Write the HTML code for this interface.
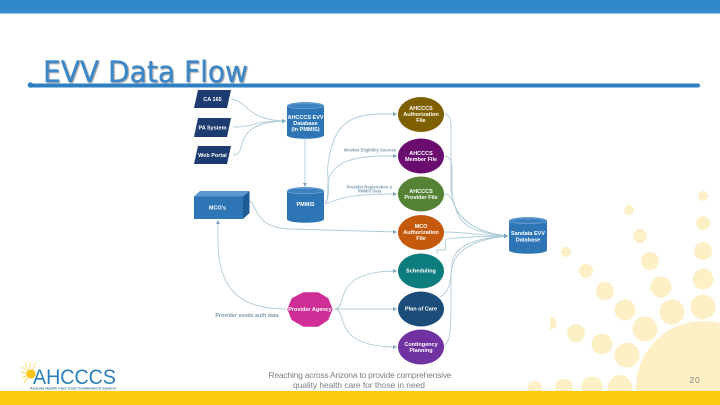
<!DOCTYPE html>
<html>
<head>
<meta charset="utf-8">
<style>
html,body{margin:0;padding:0;background:#fff;overflow:hidden}
body{width:720px;height:405px;overflow:hidden}
svg{display:block;overflow:hidden}
text{font-family:"Liberation Sans",sans-serif}
.w{fill:#fff;font-weight:bold;font-size:5.5px;text-anchor:middle}
.l{fill:#7a9ab0;font-weight:bold;font-size:4.1px;text-anchor:middle}
.c{fill:none;stroke:#b0ccd8;stroke-width:.9}
</style>
</head>
<body>
<svg width="720" height="405" viewBox="0 0 720 405" xmlns="http://www.w3.org/2000/svg">
<defs>
<marker id="a" markerWidth="5" markerHeight="5" refX="4" refY="2" orient="auto" markerUnits="userSpaceOnUse"><path d="M0 0L4 2L0 4Z" fill="#7fa6bf"/></marker>
<filter id="s" x="-5%" y="-5%" width="110%" height="110%"><feGaussianBlur stdDeviation=".35"/></filter>
<filter id="ts" x="-5%" y="-20%" width="110%" height="140%"><feDropShadow dx="1" dy="1" stdDeviation=".45" flood-color="#444" flood-opacity=".55"/></filter>
<linearGradient id="bar" x1="0" y1="0" x2="0" y2="1"><stop offset="0" stop-color="#2f87c9"/><stop offset="1" stop-color="#338bcb"/></linearGradient>
</defs>

<!-- sun background -->
<g fill="#fdf0c6">
<path d="M636 391A67 67 0 0 1 720 323.200V391Z"/>
<circle cx="703" cy="196" r="5"/><circle cx="703" cy="223" r="7"/><circle cx="703" cy="251" r="9"/><circle cx="703" cy="279" r="10.500"/><circle cx="703" cy="307" r="12.500"/>
<circle cx="629" cy="210" r="5"/><circle cx="640" cy="236" r="7"/><circle cx="650" cy="261" r="9"/><circle cx="661" cy="287" r="10.500"/><circle cx="672" cy="312" r="12.500"/>
<circle cx="566" cy="252" r="5"/><circle cx="586" cy="271" r="7"/><circle cx="605" cy="291" r="9"/><circle cx="625" cy="310" r="10.500"/><circle cx="645" cy="329" r="12.500"/>
<circle cx="550" cy="323" r="6.500"/><circle cx="576" cy="333" r="9"/><circle cx="602" cy="344" r="10.500"/><circle cx="627" cy="355" r="12.500"/>
<circle cx="535" cy="388" r="7"/><circle cx="564" cy="388" r="9"/><circle cx="592" cy="387" r="10.500"/><circle cx="620" cy="387" r="12"/>
</g>
<rect x="190" y="90" width="360" height="275" fill="#fff"/>

<!-- bars -->
<rect x="0" y="0" width="720" height="13.500" fill="url(#bar)"/>
<rect x="0" y="391" width="720" height="14" fill="#fdc90e"/>

<!-- title -->
<text x="43" y="82" font-size="29.500" textLength="205" lengthAdjust="spacingAndGlyphs" fill="#3a87c8" stroke="#3a87c8" stroke-width=".25" filter="url(#ts)" style="font-family:'DejaVu Sans',sans-serif">EVV Data Flow</text>
<rect x="29" y="83.500" width="671" height="4" rx="2" fill="#2f80c2"/>
<circle cx="30.500" cy="85" r="2.800" fill="#2f80c2"/>

<g filter="url(#s)">
<!-- connectors -->
<path class="c" d="M231 99C250 102 245 120 286 121" marker-end="url(#a)"/>
<path class="c" d="M233 127C255 127 250 121 286 121" marker-end="url(#a)"/>
<path class="c" d="M233 155C250 155 228 122 286 121" marker-end="url(#a)"/>
<path class="c" d="M305 139V187" marker-end="url(#a)"/>
<path class="c" d="M325 204C332 196 326 172 328 165C332 130 345 114 380 114L397 114" marker-end="url(#a)"/>
<path class="c" d="M325 204C330 196 326 185 329 178C335 163 350 157 380 156L397 156" marker-end="url(#a)"/>
<path class="c" d="M325 204C345 197 350 194 397 194" marker-end="url(#a)"/>
<path class="c" d="M249 201C257 201 252 228 290 229L397 232" marker-end="url(#a)"/>
<path class="c" d="M286 309C240 309 218 290 218 240V220" marker-end="url(#a)"/>
<path class="c" d="M334 309C350 309 328 271 397 271" marker-end="url(#a)"/>
<path class="c" d="M334 309H397" marker-end="url(#a)"/>
<path class="c" d="M334 309C350 309 328 347 397 347" marker-end="url(#a)"/>
<path class="c" d="M444 114C450 114 451 120 451 130V185C451 215 470 232 508 236" marker-end="url(#a)"/>
<path class="c" d="M444 156C450 156 452 162 452 170V190C452 218 475 233 508 236" marker-end="url(#a)"/>
<path class="c" d="M444 194C452 194 454 205 458 215C465 228 480 234 508 236" marker-end="url(#a)"/>
<path class="c" d="M444 232C470 232 480 236 508 236" marker-end="url(#a)"/>
<path class="c" d="M437 254V250H445.500V240C445.500 238 480 236 508 236" marker-end="url(#a)"/>
<path class="c" d="M440 297C450 292 451 280 452 263C454 248 470 238 508 236" marker-end="url(#a)"/>
<path class="c" d="M443 347C451 342 451 330 451 300V275C452 255 465 240 508 236" marker-end="url(#a)"/>

<!-- parallelograms -->
<g fill="#1f3b6e">
<path d="M198 90H231L227 108H194Z"/>
<path d="M198 118H231L227 137H194Z"/>
<path d="M198 146H231L227 164H194Z"/>
</g>
<text class="w" x="212.500" y="101">CA 165</text>
<text class="w" x="212.500" y="129.500">PA System</text>
<text class="w" x="212.500" y="157">Web Portal</text>

<!-- AHCCCS EVV cylinder -->
<path d="M287 106C287 101 324 101 324 106V135C324 140 287 140 287 135Z" fill="#2e75b6"/>
<ellipse cx="305.500" cy="106" rx="18.500" ry="2.800" fill="#3c82c0" stroke="#9cc4e4" stroke-width=".4"/>
<text class="w" x="305.500" y="119">AHCCCS EVV</text>
<text class="w" x="305.500" y="125">Database</text>
<text class="w" x="305.500" y="131">(In PMMIS)</text>

<!-- PMMIS cylinder -->
<path d="M287 191C287 186 324 186 324 191V219C324 224 287 224 287 219Z" fill="#2e75b6"/>
<ellipse cx="305.500" cy="191" rx="18.500" ry="2.800" fill="#3c82c0" stroke="#9cc4e4" stroke-width=".4"/>
<text class="w" x="305.500" y="206">PMMIS</text>

<!-- MCO box -->
<path d="M194 196.500L200 191H249.500L243 196.500Z" fill="#5a97cf"/>
<path d="M243 196.500L249.500 191V213L243 219Z" fill="#1f5d96"/>
<rect x="194" y="196.500" width="49" height="22.500" fill="#2e75b6"/>
<text class="w" x="217.500" y="209.500">MCO's</text>

<!-- Sandata cylinder -->
<path d="M509 221C509 216 547 216 547 221V250C547 255 509 255 509 250Z" fill="#2e75b6"/>
<ellipse cx="528" cy="221" rx="19" ry="2.800" fill="#3c82c0" stroke="#9cc4e4" stroke-width=".4"/>
<text class="w" x="528" y="235">Sandata EVV</text>
<text class="w" x="528" y="241.500">Database</text>

<!-- circles -->
<ellipse cx="421" cy="114.500" rx="23" ry="17.500" fill="#7f6000"/>
<text class="w" x="421" y="110">AHCCCS</text><text class="w" x="421" y="116">Authorization</text><text class="w" x="421" y="122">File</text>
<ellipse cx="421" cy="156" rx="23" ry="17.500" fill="#6a0f6e"/>
<text class="w" x="421" y="155">AHCCCS</text><text class="w" x="421" y="161">Member File</text>
<ellipse cx="421" cy="194" rx="23" ry="17.500" fill="#548235"/>
<text class="w" x="421" y="193">AHCCCS</text><text class="w" x="421" y="199">Provider File</text>
<ellipse cx="421" cy="232.500" rx="23" ry="17.500" fill="#c55a11"/>
<text class="w" x="421" y="228">MCO</text><text class="w" x="421" y="234">Authorization</text><text class="w" x="421" y="240">File</text>
<ellipse cx="421" cy="271" rx="23" ry="17.500" fill="#0e7c7b"/>
<text class="w" x="421" y="272.500">Scheduling</text>
<ellipse cx="421" cy="309" rx="23" ry="17.500" fill="#1f4e79"/>
<text class="w" x="421" y="310.500">Plan of Care</text>
<ellipse cx="421" cy="347" rx="23" ry="17.500" fill="#7030a0"/>
<text class="w" x="421" y="346">Contingency</text><text class="w" x="421" y="352">Planning</text>

<!-- provider agency -->
<polygon points="287.300,309.300 291.700,298.300 303.300,292.300 318.300,292.300 328.300,298.300 332.700,309.300 328.300,320 318.300,326.700 303.300,326.700 291.700,320" fill="#cf2f96"/>
<text class="w" x="310" y="311">Provider Agency</text>

<!-- connector labels -->
<text class="l" x="370" y="151.500">Member Eligibility Sources</text>
<text class="l" x="369.500" y="188.500">Provider Registration &amp;</text>
<text class="l" x="369.500" y="192.500">PMMIS Data</text>
<text class="l" x="247" y="317" style="font-size:5.300px">Provider sends auth data</text>
</g>

<!-- footer -->
<g fill="#808080" font-size="8.500" text-anchor="middle">
<text x="360" y="378" textLength="183" lengthAdjust="spacing">Reaching across Arizona to provide comprehensive</text>
<text x="359" y="388" textLength="132" lengthAdjust="spacing">quality health care for those in need</text>
</g>
<text x="695" y="383" fill="#7f7f7f" font-size="8.500" text-anchor="middle" letter-spacing=".8">20</text>

<!-- logo -->
<g stroke="#fbd035" stroke-width=".7">
<path d="M30 374L30 362M30 374L25 363M30 374L36 363M30 374L22 367M30 374L21 372M30 374L22 378M30 374L24 383"/>
</g>
<circle cx="31" cy="374" r="4.500" fill="#fcc419"/>
<text x="33" y="384" font-size="21" textLength="83" lengthAdjust="spacingAndGlyphs" fill="#2b7fb8">AHCCCS</text>
<text x="30" y="389.500" font-size="4" font-weight="bold" textLength="86" lengthAdjust="spacing" fill="#5b7f98">Arizona Health Care Cost Containment System</text>
</svg>
</body>
</html>
